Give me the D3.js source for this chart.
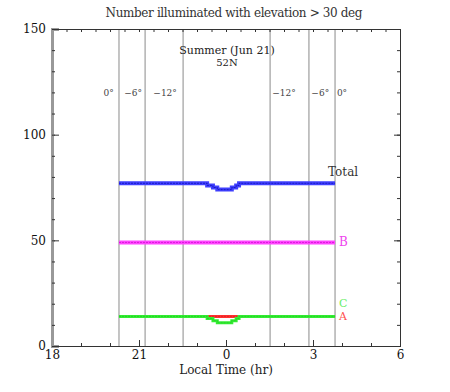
<!DOCTYPE html>
<html><head><meta charset="utf-8">
<script src="https://cdn.jsdelivr.net/npm/d3@7"></script>
<style>body{margin:0;background:#fff}svg{display:block}text{font-family:"DejaVu Serif","Liberation Serif",serif}</style>
</head><body><div id="c"></div>
<script>
// hours on a continuous 18..30 scale (24 = midnight)
const times = [20.31, 23.35, 23.55, 23.7, 24.2, 24.35, 24.45, 27.76];
const seriesA = [14, 14, 14, 14, 14, 14, 14, 14];
const seriesB = [49, 49, 49, 49, 49, 49, 49, 49];
const seriesC = [14, 13, 12, 11, 12, 13, 14, 14];
const seriesTotal = [77, 76, 75, 74, 75, 76, 77, 77];
const xTicks = [18, 21, 24, 27, 30];
const yTicks = [0, 50, 100, 150];
const twilightTimes = [20.31, 21.21, 22.52, 25.52, 26.86, 27.76];
const twilightLabels = ["0\u00b0", "\u22126\u00b0", "\u221212\u00b0", "\u221212\u00b0", "\u22126\u00b0", "0\u00b0"];
const labelTimes = [19.95, 20.8, 21.9, 26.0, 27.25, 28.0];

const W = 450, H = 392;
const m = {l: 52, r: 50, t: 29, b: 46};
const svg = d3.select("#c").append("svg").attr("width", W).attr("height", H);
const x = d3.scaleLinear().domain([18, 30]).range([m.l, W - m.r]);
const y = d3.scaleLinear().domain([0, 150]).range([H - m.b, m.t]);

// twilight lines
svg.selectAll("line.tw").data(twilightTimes).enter().append("line")
  .attr("x1", d => x(d)).attr("x2", d => x(d)).attr("y1", y(150)).attr("y2", y(0))
  .attr("stroke", "#8a8a8a").attr("stroke-width", 1);
svg.selectAll("text.tw").data(twilightLabels).enter().append("text")
  .attr("x", (d, i) => x(labelTimes[i])).attr("y", 96).attr("text-anchor", "middle")
  .attr("font-size", 9).attr("fill", "#444").text(d => d);

// axes
const fmt = d => String(d % 24);
const gB = svg.append("g").attr("transform", `translate(0,${y(0)})`)
  .call(d3.axisBottom(x).tickValues(xTicks).tickFormat(fmt).tickSize(-6).tickPadding(4));
const gBm = svg.append("g").attr("transform", `translate(0,${y(0)})`)
  .call(d3.axisBottom(x).tickValues(d3.range(18, 31, 1)).tickFormat("").tickSize(-3));
const gT = svg.append("g").attr("transform", `translate(0,${y(150)})`)
  .call(d3.axisTop(x).tickValues(d3.range(18, 30.01, 0.5)).tickFormat("").tickSize(-3));
const gL = svg.append("g").attr("transform", `translate(${x(18)},0)`)
  .call(d3.axisLeft(y).tickValues(yTicks).tickSize(-7).tickPadding(6));
const gLm = svg.append("g").attr("transform", `translate(${x(18)},0)`)
  .call(d3.axisLeft(y).tickValues(d3.range(0, 151, 10)).tickFormat("").tickSize(-3));
const gR = svg.append("g").attr("transform", `translate(${x(30)},0)`)
  .call(d3.axisRight(y).tickValues(yTicks).tickFormat("").tickSize(-6));
const gRm = svg.append("g").attr("transform", `translate(${x(30)},0)`)
  .call(d3.axisRight(y).tickValues(d3.range(0, 151, 10)).tickFormat("").tickSize(-3));
[gB, gBm, gT, gL, gLm, gR, gRm].forEach(g => {
  g.selectAll("path").attr("stroke", "#333").attr("stroke-width", 1);
  g.selectAll("line").attr("stroke", "#333");
  g.selectAll("text").attr("font-size", 12).attr("fill", "#111")
    .attr("font-family", "\"DejaVu Serif\",serif");
});
gL.select("path").attr("stroke", "#999").attr("stroke-width", 3);
gLm.select("path").attr("stroke", "#999").attr("stroke-width", 3);

// series
const line = d3.line().x(d => x(d[0])).y(d => y(d[1])).curve(d3.curveStepAfter);
function drawSeries(vals, col, dark, w) {
  const pts = times.map((t, i) => [t, vals[i]]);
  svg.append("path").attr("d", line(pts)).attr("fill", "none")
    .attr("stroke", col).attr("stroke-width", w);
  svg.append("path").attr("d", line(pts)).attr("fill", "none")
    .attr("stroke", dark).attr("stroke-width", 1).attr("stroke-dasharray", "2,1").attr("opacity", 0.6);
}
drawSeries(seriesA, "#ff3030", "#d02020", 3);
drawSeries(seriesC, "#33ee33", "#20c020", 3);
drawSeries(seriesB, "#ff44ff", "#c000c0", 4);
drawSeries(seriesTotal, "#4040ff", "#00009a", 4);

// series labels
const endT = times[times.length - 1];
svg.append("text").attr("x", x(endT) - 7).attr("y", y(seriesTotal[7]) - 7).attr("font-size", 12).attr("fill", "#333").text("Total");
svg.append("text").attr("x", x(endT) + 4).attr("y", y(seriesB[7]) + 4).attr("font-size", 12).attr("fill", "#ee44ee").text("B");
svg.append("text").attr("x", x(endT) + 4).attr("y", y(seriesC[7]) - 9).attr("font-size", 11).attr("fill", "#66ee66").text("C");
svg.append("text").attr("x", x(endT) + 4).attr("y", y(seriesA[7]) + 4).attr("font-size", 11).attr("fill", "#ff5050").text("A");

// titles
svg.append("text").attr("x", 234).attr("y", 17).attr("text-anchor", "middle").attr("font-size", 12)
  .attr("fill", "#333").attr("textLength", 257).text("Number illuminated with elevation > 30 deg");
svg.append("text").attr("x", 227).attr("y", 54).attr("text-anchor", "middle").attr("font-size", 11)
  .attr("fill", "#222").text("Summer (Jun 21)");
svg.append("text").attr("x", 227).attr("y", 66).attr("text-anchor", "middle").attr("font-size", 10)
  .attr("fill", "#222").text("52N");
svg.append("text").attr("x", 226).attr("y", 374).attr("text-anchor", "middle").attr("font-size", 12)
  .attr("fill", "#222").text("Local Time (hr)");
</script></body></html>
